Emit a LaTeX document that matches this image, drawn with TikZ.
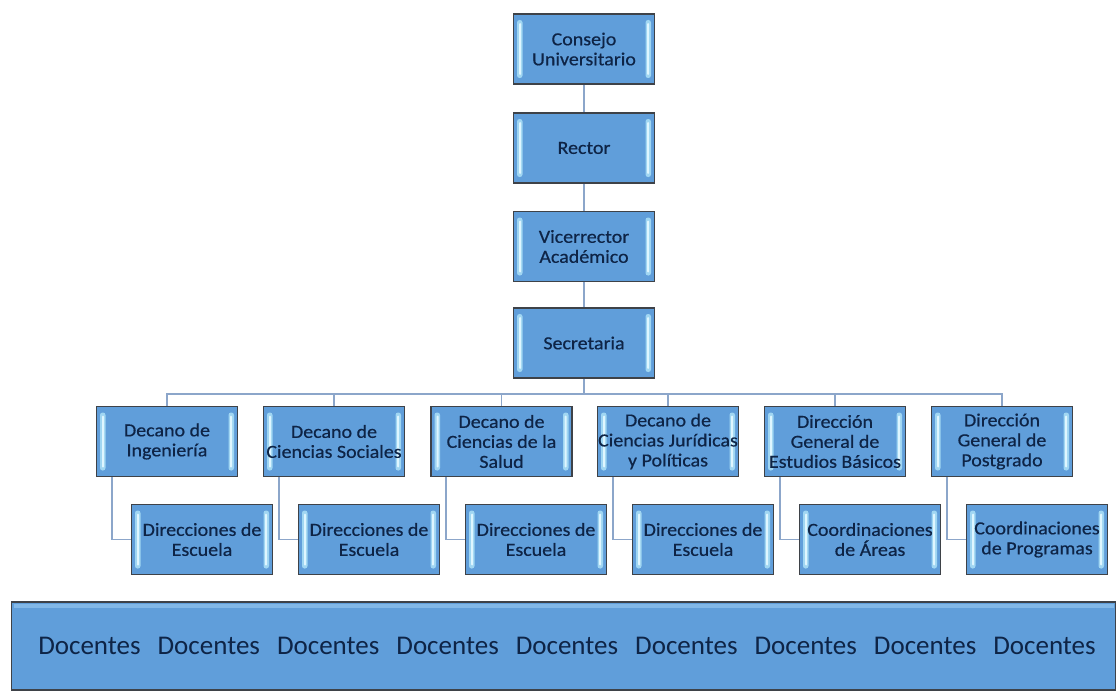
\documentclass[tikz,border=0pt]{standalone}
\usepackage{fontspec}
\setmainfont{Carlito}
\newfontfamily\boxfont[FakeStretch=1.08,FakeBold=0.5]{Carlito}
\usetikzlibrary{calc,backgrounds}

\definecolor{boxfill}{RGB}{96,158,218}
\definecolor{boxedge}{RGB}{62,66,72}
\definecolor{boxtext}{RGB}{14,36,70}
\definecolor{glow}{RGB}{160,214,242}
\definecolor{shine}{RGB}{222,246,255}
\definecolor{topband}{RGB}{130,184,232}
\definecolor{linkcol}{RGB}{140,166,202}

\tikzset{
  orgbox/.style={
    rectangle, draw=boxedge, line width=1.6pt, fill=boxfill,
    minimum width=141pt, minimum height=70pt, inner sep=0pt,
    align=center, text=boxtext,
    font=\boxfont\fontsize{18.5}{20}\selectfont,
    path picture={
      % bevel highlights on the left and right inner edges
      \fill[glow, rounded corners=2.5pt]
        ($(path picture bounding box.north west)+(3.5,6)$) rectangle
        ($(path picture bounding box.south west)+(9,-6)$);
      \fill[shine, rounded corners=1pt]
        ($(path picture bounding box.north west)+(5.5,9)$) rectangle
        ($(path picture bounding box.south west)+(7.5,-9)$);
      \fill[glow, rounded corners=2.5pt]
        ($(path picture bounding box.north east)+(-3.5,6)$) rectangle
        ($(path picture bounding box.south east)+(-9,-6)$);
      \fill[shine, rounded corners=1pt]
        ($(path picture bounding box.north east)+(-5.5,9)$) rectangle
        ($(path picture bounding box.south east)+(-7.5,-9)$);
    }},
  bigbox/.style={
    rectangle, draw=boxedge, line width=1.6pt, fill=boxfill,
    inner sep=0pt, text=boxtext,
    path picture={
      \fill[topband]
        ($(path picture bounding box.north west)+(2,2)$) rectangle
        ($(path picture bounding box.north east)+(-2,6)$);
    }},
  link/.style={draw=linkcol, line width=1.8pt},
}

\begin{document}
\begin{tikzpicture}[x=1pt, y=-1pt]
  \useasboundingbox (0,0) rectangle (1120,693);

  % top chain
  \node[orgbox] (consejo) at (584,49)    {Consejo\\Universitario};
  \node[orgbox] (rector)  at (584,148)   {Rector};
  \node[orgbox] (vice)    at (584,246.5) {Vicerrector\\Académico};
  \node[orgbox] (secre)   at (584,343)   {Secretaria};

  % deans and directorates
  \node[orgbox] (d1) at (167,441.5)  {Decano de\\Ingeniería};
  \node[orgbox] (d2) at (334,441.5)  {Decano de\\Ciencias Sociales};
  \node[orgbox] (d3) at (501.5,441.5){Decano de\\Ciencias de la\\Salud};
  \node[orgbox] (d4) at (668,441.5)  {Decano de\\Ciencias Jurídicas\\y Políticas};
  \node[orgbox] (d5) at (835,441.5)  {Dirección\\General de\\Estudios Básicos};
  \node[orgbox] (d6) at (1002,441.5) {Dirección\\General de\\Postgrado};

  % subordinate units
  \node[orgbox] (c1) at (202,539.5)  {Direcciones de\\Escuela};
  \node[orgbox] (c2) at (369,539.5)  {Direcciones de\\Escuela};
  \node[orgbox] (c3) at (536,539.5)  {Direcciones de\\Escuela};
  \node[orgbox] (c4) at (703,539.5)  {Direcciones de\\Escuela};
  \node[orgbox] (c5) at (870,539.5)  {Coordinaciones\\de Áreas};
  \node[orgbox] (c6) at (1037,539.5) {Coordinaciones\\de Programas};

  % teaching staff band
  \node[bigbox, minimum width=1104pt, minimum height=88pt,
        font=\fontsize{27}{30}\selectfont] (doc) at (563.5,646)
    {\hspace{7pt}Docentes\hspace{17pt}Docentes\hspace{17pt}Docentes\hspace{17pt}%
     Docentes\hspace{17pt}Docentes\hspace{17pt}Docentes\hspace{17pt}%
     Docentes\hspace{17pt}Docentes\hspace{17pt}Docentes};

  \begin{scope}[on background layer]
    \fill[white] (0,0) rectangle (1120,693);
    % connectors of the top chain
    \coordinate (bus) at (584,394);
    \draw[link] (consejo.south) -- (rector.north);
    \draw[link] (rector.south) -- (vice.north);
    \draw[link] (vice.south) -- (secre.north);
    \draw[link] (secre.south) -- (bus);
    \foreach \d in {d1,d2,d3,d4,d5,d6}
      \draw[link] (\d.north) |- (bus);
    % connectors from each dean to its unit
    \foreach \d/\c in {d1/c1,d2/c2,d3/c3,d4/c4,d5/c5,d6/c6}
      \draw[link] ($(\d.south west)+(16,0)$) |- (\c.west);
  \end{scope}
\end{tikzpicture}
\end{document}
